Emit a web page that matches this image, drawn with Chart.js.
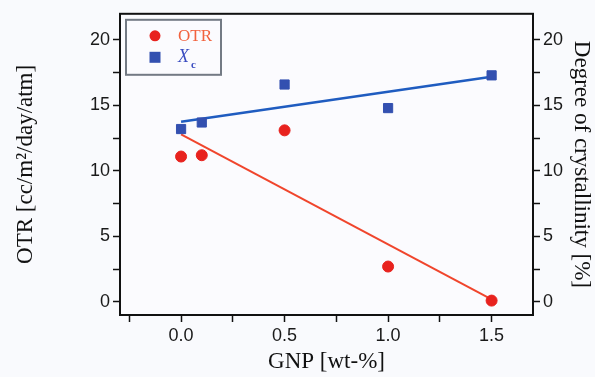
<!DOCTYPE html>
<html>
<head>
<meta charset="utf-8">
<script src="https://cdn.jsdelivr.net/npm/chart.js@4.4.0/dist/chart.umd.min.js"></script>
<style>
  html, body { margin: 0; padding: 0; background: #f9fafd; }
  #wrap { width: 595px; height: 377px; position: relative; }
</style>
</head>
<body>
<div id="wrap"><canvas id="chart" width="595" height="377"></canvas></div>
<script>
// GNP loading [wt-%]
const gnpLoading = [0, 0.1, 0.5, 1.0, 1.5];
// oxygen transmission rate [cc/m2/day/atm]
const otrValues = [11.1, 11.2, 13.1, 2.7, 0.1];
// degree of crystallinity [%]
const xcValues = [13.2, 13.7, 16.6, 14.8, 17.3];
// linear fit end points
const fitX = [0, 1.5];
const otrFit = [12.8, 0.2];
const xcFit = [13.75, 17.2];

const RED = '#e8221e';
const RED_LINE = '#f0452c';
const BLUE = '#3350b0';
const BLUE_LINE = '#1f5cc0';
const TICK_FONT = { family: "'Liberation Sans', Arial, sans-serif", size: 18 };
const TITLE_FONT = { family: "'Liberation Serif', 'Times New Roman', serif", size: 23 };

const pts = (xs, ys) => xs.map((x, i) => ({ x, y: ys[i] }));

// Boxed legend drawn in the top-left corner of the plot
const legendBox = {
  id: 'legendBox',
  afterDraw(chart) {
    const ctx = chart.ctx;
    const a = chart.chartArea;
    const x = a.left + 6, y = a.top + 6, w = 95, h = 55;
    ctx.save();
    ctx.strokeStyle = '#737a84';
    ctx.lineWidth = 2;
    ctx.strokeRect(x, y, w, h);
    // OTR
    ctx.fillStyle = RED;
    ctx.beginPath();
    ctx.arc(x + 29, y + 16, 5.5, 0, Math.PI * 2);
    ctx.fill();
    ctx.fillStyle = '#f2623e';
    ctx.font = "17px 'Liberation Serif', serif";
    ctx.textBaseline = 'middle';
    ctx.fillText('OTR', x + 52, y + 17);
    // Xc
    ctx.fillStyle = BLUE;
    ctx.fillRect(x + 23.5, y + 32, 11, 11);
    ctx.fillStyle = '#3a4cc0';
    ctx.font = "italic 18px 'Liberation Serif', serif";
    ctx.fillText('X', x + 52, y + 37);
    ctx.font = "bold 11px 'Liberation Serif', serif";
    ctx.fillText('c', x + 65, y + 45);
    ctx.restore();
  }
};

// Frame around the plot area
const frame = {
  id: 'frame',
  afterDatasetsDraw(chart) {
    const ctx = chart.ctx;
    const a = chart.chartArea;
    ctx.save();
    ctx.strokeStyle = '#111';
    ctx.lineWidth = 2;
    ctx.strokeRect(a.left, a.top, a.right - a.left, a.bottom - a.top);
    ctx.restore();
  },
  beforeDraw(chart) {
    const ctx = chart.ctx;
    const a = chart.chartArea;
    ctx.save();
    ctx.fillStyle = '#fbfbfe';
    ctx.fillRect(a.left, a.top, a.right - a.left, a.bottom - a.top);
    ctx.restore();
  }
};

const isMajor = (v, step) => Math.abs(v / step - Math.round(v / step)) < 1e-6;

function yAxis(position, title) {
  return {
    type: 'linear',
    position,
    min: -1,
    max: 22,
    border: { display: false },
    grid: { drawOnChartArea: false, tickLength: 7, tickWidth: 1.5, tickColor: '#111' },
    ticks: {
      stepSize: 2.5,
      includeBounds: false,
      autoSkip: false,
      color: '#1a1a1a',
      font: TICK_FONT,
      padding: 3,
      callback: v => isMajor(v, 5) ? String(Math.round(v)) : ''
    },
    title: { display: true, text: title, color: '#111', font: TITLE_FONT, padding: { top: 0, bottom: 2 } },
    afterFit: s => { s.width = position === 'left' ? 108 : 62; }
  };
}

new Chart(document.getElementById('chart'), {
  type: 'scatter',
  data: {
    datasets: [
      {
        label: 'OTR',
        data: pts(gnpLoading, otrValues),
        yAxisID: 'y',
        backgroundColor: RED,
        borderColor: RED,
        pointStyle: 'circle',
        pointRadius: 5.5,
        order: 1
      },
      {
        label: 'Xc',
        data: pts(gnpLoading, xcValues),
        yAxisID: 'y1',
        backgroundColor: BLUE,
        borderColor: BLUE,
        pointStyle: 'rect',
        pointRadius: 6.5,
        order: 1
      },
      {
        label: 'OTR fit',
        type: 'line',
        data: pts(fitX, otrFit),
        yAxisID: 'y',
        borderColor: RED_LINE,
        borderWidth: 2,
        pointRadius: 0,
        order: 2
      },
      {
        label: 'Xc fit',
        type: 'line',
        data: pts(fitX, xcFit),
        yAxisID: 'y1',
        borderColor: BLUE_LINE,
        borderWidth: 2.5,
        pointRadius: 0,
        order: 2
      }
    ]
  },
  options: {
    responsive: false,
    animation: false,
    layout: { padding: { left: 12, top: 9, right: 0, bottom: 0 } },
    plugins: {
      legend: { display: false },
      tooltip: { enabled: false }
    },
    scales: {
      x: {
        type: 'linear',
        min: -0.295,
        max: 1.70,
        border: { display: false },
        grid: { drawOnChartArea: false, tickLength: 7, tickWidth: 1.5, tickColor: '#111' },
        ticks: {
          stepSize: 0.25,
          includeBounds: false,
          autoSkip: false,
          maxRotation: 0,
          color: '#1a1a1a',
          font: TICK_FONT,
          padding: 3,
          callback: v => isMajor(v, 0.5) ? v.toFixed(1) : ''
        },
        title: { display: true, text: 'GNP [wt-%]', color: '#111', font: TITLE_FONT, padding: { top: 3, bottom: 1 } },
        afterFit: s => { s.height = 62; }
      },
      y: yAxis('left', 'OTR [cc/m²/day/atm]'),
      y1: yAxis('right', 'Degree of crystallinity [%]')
    }
  },
  plugins: [frame, legendBox]
});
</script>
</body>
</html>
